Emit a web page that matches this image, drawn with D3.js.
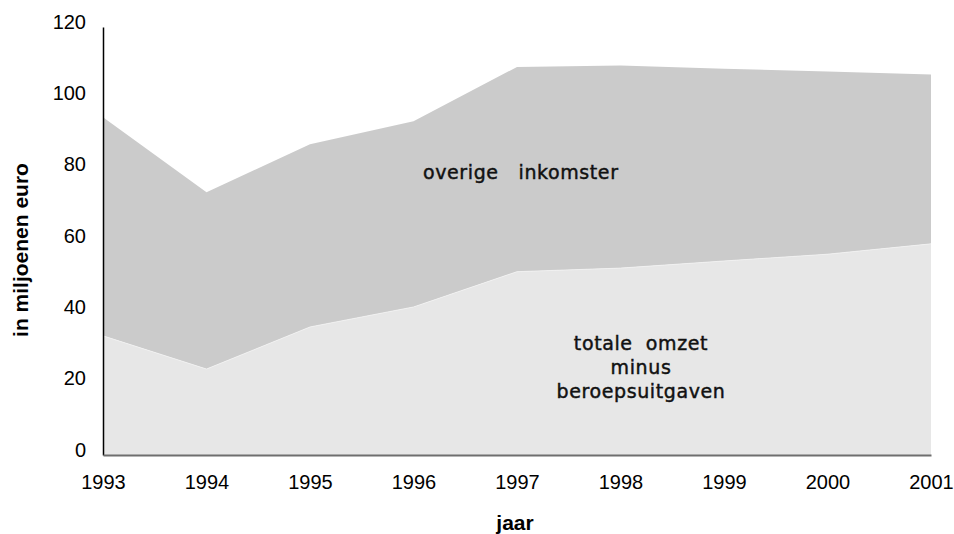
<!DOCTYPE html>
<html>
<head>
<meta charset="utf-8">
<script src="https://cdn.jsdelivr.net/npm/d3@7"></script>
<style>
  body { margin: 0; background: #fff; }
  .tick text { font-family: "Liberation Sans", Arial, sans-serif; }
  .title { font-family: "Liberation Sans", Arial, sans-serif; font-weight: bold; font-size: 21px; }
  .lbl { font-family: "DejaVu Sans", sans-serif; font-size: 19px; letter-spacing: 0.6px; fill: #111; stroke: #111; stroke-width: 0.45px; }
</style>
</head>
<body>
<div id="chart"></div>
<script>
var width = 954,
    height = 534;

// data (millions of euro)
var years = [1993, 1994, 1995, 1996, 1997, 1998, 1999, 2000, 2001];
var netto = [33.4, 24.1, 35.9, 41.5, 51.4, 52.4, 54.4, 56.3, 59.2];   // totale omzet minus beroepsuitgaven
var totaal = [94.7, 73.7, 87.1, 93.6, 108.8, 109.2, 108.3, 107.5, 106.7]; // incl. overige inkomster
var yTicks = [0, 20, 40, 60, 80, 100, 120];

var x = d3.scaleLinear().domain([1993, 2001]).range([103, 931]);
var y = d3.scaleLinear().domain([0, 120]).range([455, 27]);

var svg = d3.select('#chart').append('svg')
  .attr('width', width)
  .attr('height', height);

var rows = years.map(function(yr, i) { return {year: yr, lo: netto[i], hi: totaal[i]}; });

// overige inkomster (top band)
svg.append('path')
  .datum(rows)
  .attr('fill', '#cbcbcb')
  .attr('d', d3.area()
    .x(function(d) { return x(d.year); })
    .y0(function(d) { return y(d.lo); })
    .y1(function(d) { return y(d.hi); }));

// totale omzet minus beroepsuitgaven (bottom band)
svg.append('path')
  .datum(rows)
  .attr('fill', '#e7e7e7')
  .attr('d', d3.area()
    .x(function(d) { return x(d.year); })
    .y0(y(0))
    .y1(function(d) { return y(d.lo); }));

// thin light seam between bands
svg.append('path')
  .datum(rows)
  .attr('fill', 'none')
  .attr('stroke', '#f2f2f2')
  .attr('stroke-width', 0.8)
  .attr('d', d3.line()
    .x(function(d) { return x(d.year); })
    .y(function(d) { return y(d.lo); }));

// y axis
var yAxis = svg.append('g')
  .attr('transform', 'translate(' + x(1993) + ',0)')
  .call(d3.axisLeft(y).tickValues(yTicks).tickSize(0).tickPadding(17));
yAxis.select('.domain').attr('stroke', '#000').attr('stroke-width', 1.5);
yAxis.selectAll('.tick text')
  .attr('font-size', 20)
  .attr('fill', '#000')
  .attr('dy', '0.05em');

// x axis
var xAxis = svg.append('g')
  .attr('transform', 'translate(0,' + y(0) + ')')
  .call(d3.axisBottom(x).tickValues(years).tickFormat(d3.format('d')).tickSize(0).tickPadding(20));
xAxis.select('.domain').attr('stroke', '#6e6e6e').attr('stroke-width', 2);
xAxis.selectAll('.tick text')
  .attr('font-size', 20)
  .attr('fill', '#000');

// axis titles
svg.append('text')
  .attr('class', 'title')
  .attr('text-anchor', 'middle')
  .attr('transform', 'translate(28,250) rotate(-90)')
  .text('in miljoenen euro');

svg.append('text')
  .attr('class', 'title')
  .attr('text-anchor', 'middle')
  .attr('x', 515)
  .attr('y', 530)
  .text('jaar');

// area labels
svg.append('text')
  .attr('class', 'lbl')
  .attr('x', 423)
  .attr('y', 179)
  .attr('xml:space', 'preserve')
  .text('overige   inkomster');

var lines = ['totale  omzet', 'minus', 'beroepsuitgaven'];
svg.selectAll('.lo-lbl')
  .data(lines).enter()
  .append('text')
  .attr('class', 'lbl')
  .attr('text-anchor', 'middle')
  .attr('xml:space', 'preserve')
  .attr('x', 641)
  .attr('y', function(d, i) { return 350 + i * 24; })
  .text(function(d) { return d; });
</script>
</body>
</html>
